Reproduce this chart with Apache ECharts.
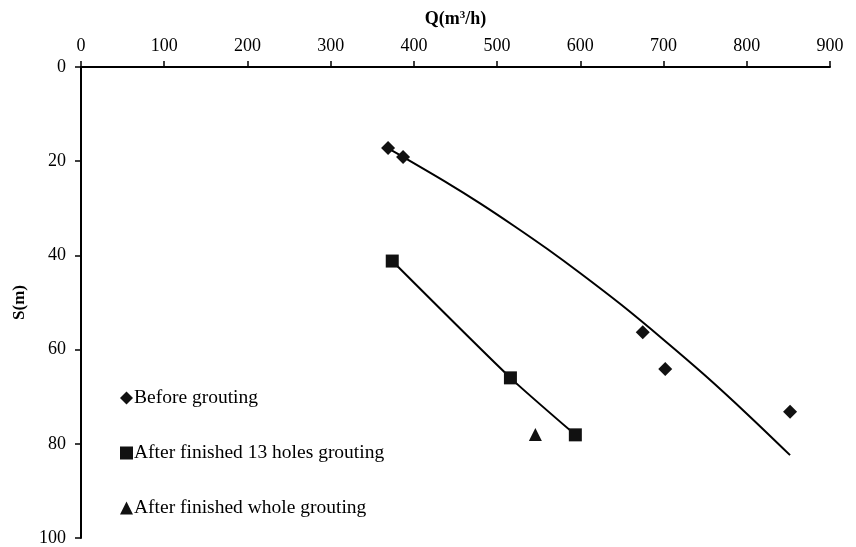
<!DOCTYPE html>
<html>
<head>
<meta charset="utf-8">
<script src="https://cdn.jsdelivr.net/npm/echarts@6/dist/echarts.min.js"></script>
<style>html,body{margin:0;padding:0;background:#fff}#c{width:856px;height:547px}</style>
</head>
<body>
<div id="c"></div>
<script>
// Data (Q in m3/h, S in m)
const beforeQ = [369, 387, 675, 702, 852];
const beforeS = [17.2, 19.1, 56.3, 64.1, 73.2];
const after13Q = [374, 516, 594];
const after13S = [41.2, 66.0, 78.1];
const wholeQ = [546];
const wholeS = [78.0];
// Trend curve of "Before grouting"
const trendQ = [369, 387, 440, 480, 520, 560, 600, 650, 700, 750, 800, 852];
const trendS = [17.3, 19.1, 24.6, 29.0, 33.7, 38.6, 43.8, 50.6, 57.9, 65.5, 73.6, 82.4];
const xTicks = [0, 100, 200, 300, 400, 500, 600, 700, 800, 900];
const yTicks = [0, 20, 40, 60, 80, 100];

const zip = (a, b) => a.map((v, i) => [v, b[i]]);
const font = 'Liberation Serif';

const chart = echarts.init(document.getElementById('c'));
chart.setOption({
  animation: false,
  backgroundColor: '#fff',
  grid: { left: 81, right: 26, top: 67, bottom: 9 },
  xAxis: {
    type: 'value', position: 'top',
    min: xTicks[0], max: xTicks[xTicks.length - 1], interval: 100,
    name: '{a|Q(m}{s|3}{a|/h)}', nameLocation: 'middle', nameGap: 38,
    nameTextStyle: {
      rich: {
        a: { fontFamily: font, fontWeight: 'bold', fontSize: 18, color: '#000' },
        s: { fontFamily: font, fontWeight: 'bold', fontSize: 11, color: '#000', verticalAlign: 'top', padding: [0, 0, 8, 0] }
      }
    },
    axisLine: { show: true, lineStyle: { color: '#000', width: 2 } },
    axisTick: { show: true, inside: false, length: 6, lineStyle: { color: '#000', width: 1.5 } },
    axisLabel: { fontFamily: font, fontSize: 18, color: '#000', margin: 12 },
    splitLine: { show: false }
  },
  yAxis: {
    type: 'value', inverse: true,
    min: yTicks[0], max: yTicks[yTicks.length - 1], interval: 20,
    name: 'S(m)', nameLocation: 'middle', nameGap: 52, nameRotate: 90,
    nameTextStyle: { fontFamily: font, fontWeight: 'bold', fontSize: 17, color: '#000' },
    axisLine: { show: true, lineStyle: { color: '#000', width: 2 } },
    axisTick: { show: true, inside: false, length: 6, lineStyle: { color: '#000', width: 1.5 } },
    axisLabel: { fontFamily: font, fontSize: 18, color: '#000', margin: 15 },
    splitLine: { show: false }
  },
  legend: {
    orient: 'vertical', left: 115, top: 383, itemGap: 35,
    itemWidth: 13, itemHeight: 13,
    textStyle: { fontFamily: font, fontSize: 19.5, color: '#000', padding: [0, 0, 0, -4] },
    data: [
      { name: 'Before grouting', icon: 'diamond' },
      { name: 'After finished 13 holes grouting', icon: 'rect' },
      { name: 'After finished whole grouting', icon: 'triangle' }
    ]
  },
  series: [
    {
      name: 'trend1', type: 'line', data: zip(trendQ, trendS), smooth: 0.3,
      showSymbol: false, symbol: 'none', lineStyle: { color: '#000', width: 2 }, z: 1
    },
    {
      name: 'trend2', type: 'line', data: zip(after13Q, after13S), smooth: 0.2,
      showSymbol: false, symbol: 'none', lineStyle: { color: '#000', width: 2 }, z: 1
    },
    {
      name: 'Before grouting', type: 'scatter', symbol: 'diamond', symbolSize: 14,
      itemStyle: { color: '#111', opacity: 1 }, data: zip(beforeQ, beforeS), z: 3
    },
    {
      name: 'After finished 13 holes grouting', type: 'scatter', symbol: 'rect', symbolSize: 13,
      itemStyle: { color: '#111', opacity: 1 }, data: zip(after13Q, after13S), z: 3
    },
    {
      name: 'After finished whole grouting', type: 'scatter', symbol: 'triangle', symbolSize: 13,
      itemStyle: { color: '#111', opacity: 1 }, data: zip(wholeQ, wholeS), z: 3
    }
  ]
});
</script>
</body>
</html>
